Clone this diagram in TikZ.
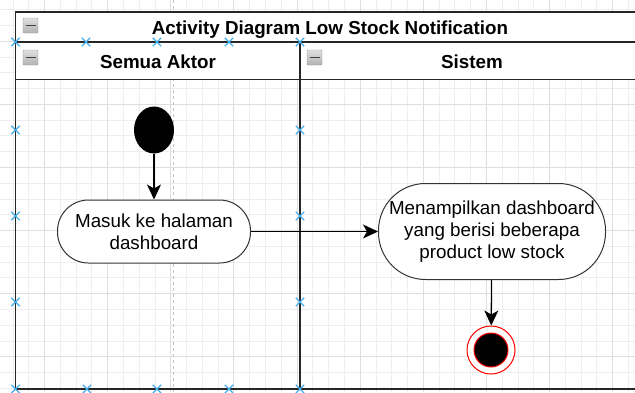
\documentclass[tikz,border=0pt]{standalone}
\usepackage{fontspec}
\setmainfont{Liberation Sans}
\usetikzlibrary{arrows.meta,shapes.geometric,shapes.misc}

\definecolor{handleblue}{RGB}{70,175,235}
\definecolor{gridminor}{RGB}{238,238,238}
\definecolor{gridmajor}{RGB}{222,222,222}

\tikzset{
  lane/.style={draw=black!85, line width=1.3pt},
  band/.style={lane, fill=white},
  activity/.style={draw=black!80, line width=1pt, fill=white, rectangle,
    align=center, inner sep=0pt, font=\fontsize{18.8}{22}\selectfont},
  flow/.style={draw=black, line width=1.3pt, -{Stealth[length=15pt,width=14pt,inset=4pt]}},
  handle/.style={cross out, draw=handleblue, line width=1.3pt, minimum size=7pt, inner sep=0pt},
  foldbox/.style={draw=gray!80, rounded corners=1pt, top color=gray!25, bottom color=gray!60,
    minimum width=15pt, minimum height=15pt, inner sep=0pt},
  headtext/.style={font=\fontsize{18.8}{22}\selectfont\bfseries}
}

\begin{document}
\begin{tikzpicture}[x=1pt,y=-1pt]
  \useasboundingbox (0,0) rectangle (635,392);
  \clip (0,0) rectangle (635,392);
  \fill[white] (0,0) rectangle (635,392);

  % grid of the editor
  \foreach \i in {0,...,42} {
    \draw[gridminor, line width=0.8pt] ({-18.6+15.78*\i},0) -- ({-18.6+15.78*\i},392);
  }
  \foreach \j in {0,...,27} {
    \draw[gridminor, line width=0.8pt] (0,{-22+15.78*\j}) -- (635,{-22+15.78*\j});
  }
  \foreach \i in {0,...,11} {
    \draw[gridmajor, line width=0.9pt] ({-18.6+63.12*\i},0) -- ({-18.6+63.12*\i},392);
  }
  \foreach \j in {0,...,7} {
    \draw[gridmajor, line width=0.9pt] (0,{-22+63.12*\j}) -- (635,{-22+63.12*\j});
  }
  \draw[gray!45, line width=1pt, dashed] (173,0) -- (173,392);

  % pool and lanes
  \draw[lane] (15.5,42) rectangle (645,389);
  \draw[band] (15.5,12) rectangle (645,42);
  \draw[band] (15.5,42) rectangle (645,79.5);
  \draw[lane] (300,42) -- (300,389);

  \node[headtext] (title) at (330,29.5) {Activity Diagram Low Stock Notification};
  \node[headtext] (actor) at (158,61.5) {Semua Aktor};
  \node[headtext] (system) at (472,61.5) {Sistem};

  \node[foldbox] (fold1) at (30.5,25.5) {};
  \node[foldbox] (fold2) at (30.5,57.5) {};
  \node[foldbox] (fold3) at (314.5,57.5) {};
  \foreach \f in {fold1,fold2,fold3}
    \draw[black!75, line width=1.8pt] ([xshift=-5pt]\f.center) -- ([xshift=5pt]\f.center);

  % activities
  \node[ellipse, fill=black, minimum width=40pt, minimum height=47pt, inner sep=0pt] (start) at (154,130) {};
  \node[activity, minimum width=193pt, minimum height=63pt, rounded corners=31pt] (masuk) at (154,231.5)
    {Masuk ke halaman\\dashboard};
  \node[activity, minimum width=227pt, minimum height=96pt, rounded corners=47pt] (tampil) at (492,231.5)
    {Menampilkan dashboard\\yang berisi beberapa\\product low stock};
  \node[circle, draw=red, line width=1pt, fill=white, minimum size=48pt, inner sep=0pt] (end) at (491,350) {};
  \node[circle, draw=red, line width=1pt, fill=black, minimum size=34pt, inner sep=0pt] (endin) at (end) {};

  \draw[flow] (start) -- (masuk);
  \draw[flow] (masuk) -- (tampil);
  \draw[flow] (tampil) -- (end);

  % selection handles
  \foreach \x in {15.5,86,157,229,300}
    \node[handle] at (\x,42) {};
  \foreach \y in {130,216,302}
    \node[handle] at (15.5,\y) {};
  \foreach \y in {130,216,302}
    \node[handle] at (300,\y) {};
  \foreach \x in {15.5,87,157,229,300}
    \node[handle] at (\x,389) {};
\end{tikzpicture}
\end{document}
